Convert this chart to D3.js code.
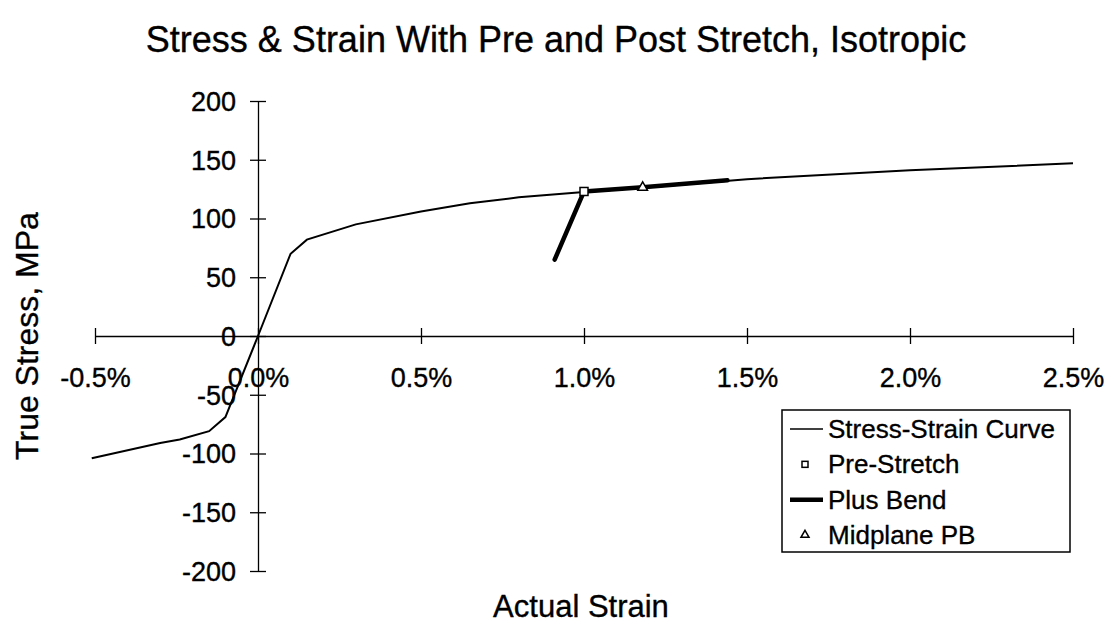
<!DOCTYPE html>
<html>
<head>
<meta charset="utf-8">
<script src="https://cdn.jsdelivr.net/npm/d3@7/dist/d3.min.js"></script>
<style>
  html, body { margin: 0; padding: 0; background: #fff; }
  svg { display: block; font-family: "Liberation Sans", Arial, sans-serif; }
  svg text { fill: #000; stroke: #000; stroke-width: 0.35px; }
</style>
</head>
<body>
<svg id="chart" width="1107" height="629"></svg>
<script>
// Stress-strain curve (strain in %, true stress in MPa)
const curveStrain = [-0.51, -0.3, -0.24, -0.15, -0.1, 0, 0.1, 0.15, 0.3, 0.5, 0.65, 0.8, 1.0, 1.2, 1.5, 2.0, 2.5];
const curveStress = [-104, -91, -88, -81, -69, 0, 70, 82, 95, 106, 113, 118, 122.5, 126.5, 133.5, 141, 147];

// Pre-stretch state
const preStrain = [1.0];
const preStress = [123];

// Plus bend path
const bendStrain = [0.91, 1.0, 1.18, 1.44];
const bendStress = [65, 123, 126.5, 132.5];

// Midplane of plus bend
const midStrain = [1.18];
const midStress = [126.5];

const xTicks = [-0.5, 0.0, 0.5, 1.0, 1.5, 2.0, 2.5];
const yTicks = [-200, -150, -100, -50, 0, 50, 100, 150, 200];

// Plain hyphen for negative numbers
const loc = d3.formatLocale({ decimal: ".", thousands: ",", grouping: [3], currency: ["", ""], minus: "-" });

const svg = d3.select("#chart");

const x = d3.scaleLinear().domain([-0.5, 2.5]).range([95, 1073]);
const y = d3.scaleLinear().domain([-200, 200]).range([571, 101]);

const zip = (a, b) => a.map((v, i) => [v, b[i]]);

// Title
svg.append("text")
  .attr("x", 556).attr("y", 52)
  .attr("text-anchor", "middle")
  .attr("font-size", 36)
  .text("Stress & Strain With Pre and Post Stretch, Isotropic");

// Y axis (ticks crossing the line)
const yAxis = d3.axisLeft(y).tickValues(yTicks).tickSize(0).tickPadding(0).tickFormat(loc.format("d"));
const gy = svg.append("g").attr("transform", `translate(${x(0)},0)`).call(yAxis);
gy.select(".domain").attr("stroke", "#000").attr("stroke-width", 1.3);
gy.selectAll(".tick line").attr("x1", -8).attr("x2", 8).attr("stroke", "#000").attr("stroke-width", 1.3);
gy.selectAll(".tick text").attr("x", -22).attr("dy", "0.35em")
  .attr("font-size", 27).attr("font-family", "Liberation Sans, Arial, sans-serif");

// X axis at zero stress
const xAxis = d3.axisBottom(x).tickValues(xTicks).tickSize(0).tickPadding(0)
  .tickFormat(d => loc.format(".1f")(d) + "%");
const gx = svg.append("g").attr("transform", `translate(0,${y(0)})`).call(xAxis);
gx.select(".domain").attr("stroke", "#000").attr("stroke-width", 1.3);
gx.selectAll(".tick line").attr("y1", -8).attr("y2", 8).attr("stroke", "#000").attr("stroke-width", 1.3);
gx.selectAll(".tick text").attr("y", 51).attr("dy", 0)
  .attr("font-size", 27).attr("font-family", "Liberation Sans, Arial, sans-serif");

// Axis titles
svg.append("text")
  .attr("x", 581).attr("y", 617)
  .attr("text-anchor", "middle")
  .attr("font-size", 31)
  .text("Actual Strain");

svg.append("text")
  .attr("transform", `translate(38,${(101 + 571) / 2}) rotate(-90)`)
  .attr("text-anchor", "middle")
  .attr("font-size", 32)
  .text("True Stress, MPa");

const line = d3.line().x(d => x(d[0])).y(d => y(d[1]));

// Stress-strain curve
svg.append("path")
  .datum(zip(curveStrain, curveStress))
  .attr("d", line)
  .attr("fill", "none").attr("stroke", "#000").attr("stroke-width", 2);

// Plus bend
svg.append("path")
  .datum(zip(bendStrain, bendStress))
  .attr("d", line)
  .attr("fill", "none").attr("stroke", "#000").attr("stroke-width", 4.5)
  .attr("stroke-linejoin", "round").attr("stroke-linecap", "round");

// Pre-stretch marker
svg.selectAll(".pre")
  .data(zip(preStrain, preStress))
  .join("rect")
  .attr("class", "pre")
  .attr("x", d => x(d[0]) - 4).attr("y", d => y(d[1]) - 4)
  .attr("width", 8).attr("height", 8)
  .attr("fill", "#fff").attr("stroke", "#000").attr("stroke-width", 1.5);

// Midplane marker
const tri = d3.symbol().type(d3.symbolTriangle).size(40);
svg.selectAll(".mid")
  .data(zip(midStrain, midStress))
  .join("path")
  .attr("class", "mid")
  .attr("transform", d => `translate(${x(d[0])},${y(d[1])})`)
  .attr("d", tri)
  .attr("fill", "#fff").attr("stroke", "#000").attr("stroke-width", 1.5);

// Legend
const lg = svg.append("g");
lg.append("rect")
  .attr("x", 782).attr("y", 410).attr("width", 288).attr("height", 142)
  .attr("fill", "#fff").attr("stroke", "#000").attr("stroke-width", 1.5);

const legendItems = [
  { label: "Stress-Strain Curve", kind: "thin" },
  { label: "Pre-Stretch", kind: "square" },
  { label: "Plus Bend", kind: "thick" },
  { label: "Midplane PB", kind: "triangle" }
];
const rowY = d3.scalePoint().domain(legendItems.map(d => d.label)).range([429, 535]);

legendItems.forEach(item => {
  const cy = rowY(item.label);
  if (item.kind === "thin") {
    lg.append("line").attr("x1", 790).attr("x2", 823).attr("y1", cy).attr("y2", cy)
      .attr("stroke", "#000").attr("stroke-width", 1.5);
  } else if (item.kind === "thick") {
    lg.append("line").attr("x1", 790).attr("x2", 823).attr("y1", cy).attr("y2", cy)
      .attr("stroke", "#000").attr("stroke-width", 4.5);
  } else if (item.kind === "square") {
    lg.append("rect").attr("x", 802).attr("y", cy - 3).attr("width", 6).attr("height", 6)
      .attr("fill", "#fff").attr("stroke", "#000").attr("stroke-width", 1.5);
  } else {
    lg.append("path").attr("transform", `translate(805,${cy})`)
      .attr("d", d3.symbol().type(d3.symbolTriangle).size(28))
      .attr("fill", "#fff").attr("stroke", "#000").attr("stroke-width", 1.5);
  }
  lg.append("text").attr("x", 828).attr("y", cy).attr("dy", "0.35em")
    .attr("font-size", 26).text(item.label);
});
</script>
</body>
</html>
